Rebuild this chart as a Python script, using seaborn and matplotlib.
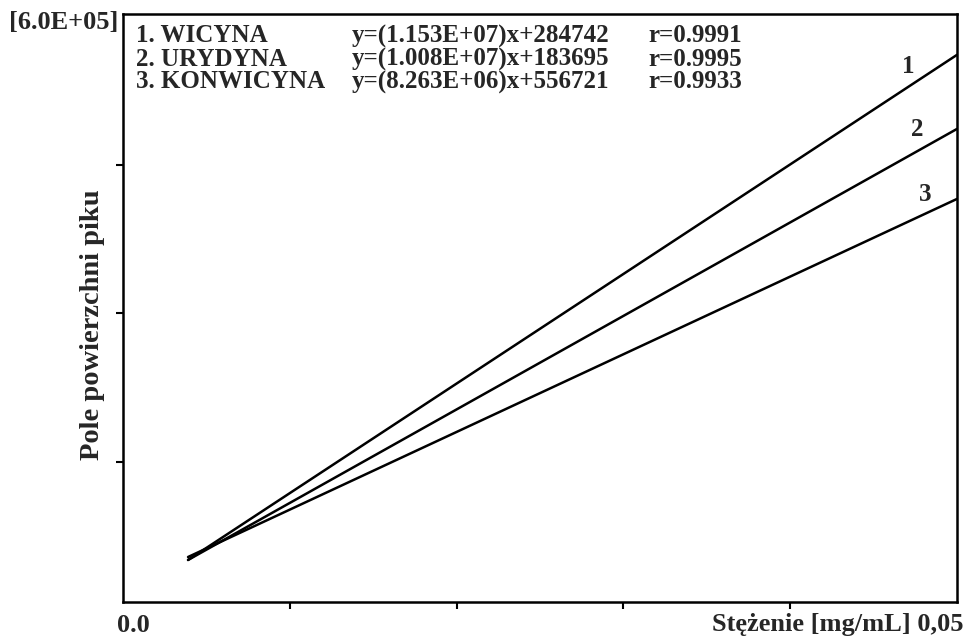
import numpy as np
import pandas as pd
from matplotlib import pyplot as plt
import seaborn as sns

# Calibration lines (start and end points)
conc = [0.0039, 0.05]
area_wicyna = [50600, 561400]
area_urydyna = [50600, 486500]
area_konwicyna = [53600, 415700]

names = ['1. WICYNA', '2. URYDYNA', '3. KONWICYNA']
equations = ['y=(1.153E+07)x+284742', 'y=(1.008E+07)x+183695', 'y=(8.263E+06)x+556721']
r_values = ['r=0.9991', 'r=0.9995', 'r=0.9933']
line_labels = ['1', '2', '3']

x_ticks = [0.01, 0.02, 0.03, 0.04]
y_ticks = [150000, 300000, 450000]

sns.set_style('white')
plt.rcParams['font.family'] = ['Liberation Serif', 'DejaVu Serif']
plt.rcParams['font.weight'] = 'bold'

df = pd.DataFrame({
    'conc': conc * 3,
    'area': area_wicyna + area_urydyna + area_konwicyna,
    'series': [line_labels[0]] * 2 + [line_labels[1]] * 2 + [line_labels[2]] * 2,
})

fig = plt.figure(figsize=(9.66, 6.37), dpi=100)
ax = fig.add_axes([123 / 966, 35 / 637, 834 / 966, 588 / 637])

sns.lineplot(data=df, x='conc', y='area', hue='series',
             palette=['black', 'black', 'black'], linewidth=1.8,
             legend=False, ax=ax)

ax.set_xlim(0, 0.05)
ax.set_ylim(8100, 602700)
ax.set_xticks(x_ticks)
ax.set_yticks(y_ticks)
ax.tick_params(axis='both', direction='out', length=5, width=1.5,
               bottom=True, left=True,
               labelbottom=False, labelleft=False, color='black')
for sp in ax.spines.values():
    sp.set_visible(True)
    sp.set_color('black')
    sp.set_linewidth(1.8)
ax.set_xlabel('')
ax.set_ylabel('')

# Line numbers near the right ends
offsets = [(-49, -12), (-40, -1), (-32, 4)]
ends = [area_wicyna[-1], area_urydyna[-1], area_konwicyna[-1]]
for lab, yend, off in zip(line_labels, ends, offsets):
    ax.annotate(lab, xy=(conc[-1], yend), xytext=off, textcoords='offset pixels',
                ha='center', va='center', fontsize=18, fontweight='bold')

# Legend block with equations
row_y = [36, 59, 82]
for i in range(3):
    yy = 1 - row_y[i] / 637
    fig.text(136 / 966, yy, names[i], ha='left', va='center', fontsize=18, fontweight='bold')
    fig.text(352 / 966, yy, equations[i], ha='left', va='center', fontsize=18, fontweight='bold')
    fig.text(648 / 966, yy, r_values[i], ha='left', va='center', fontsize=18, fontweight='bold')

# Axis texts
fig.text(118 / 966, 1 - 23 / 637, '[6.0E+05]', ha='right', va='center', fontsize=19, fontweight='bold')
fig.text(133 / 966, 1 - 625 / 637, '0.0', ha='center', va='center', fontsize=19, fontweight='bold')
fig.text(963 / 966, 1 - 625 / 637, 'Stężenie [mg/mL] 0,05', ha='right', va='center',
         fontsize=19, fontweight='bold')
fig.text(93 / 966, 1 - 325 / 637, 'Pole powierzchni piku', ha='center', va='center',
         rotation=90, fontsize=20.5, fontweight='bold')

fig.savefig('out.png', dpi=100)
